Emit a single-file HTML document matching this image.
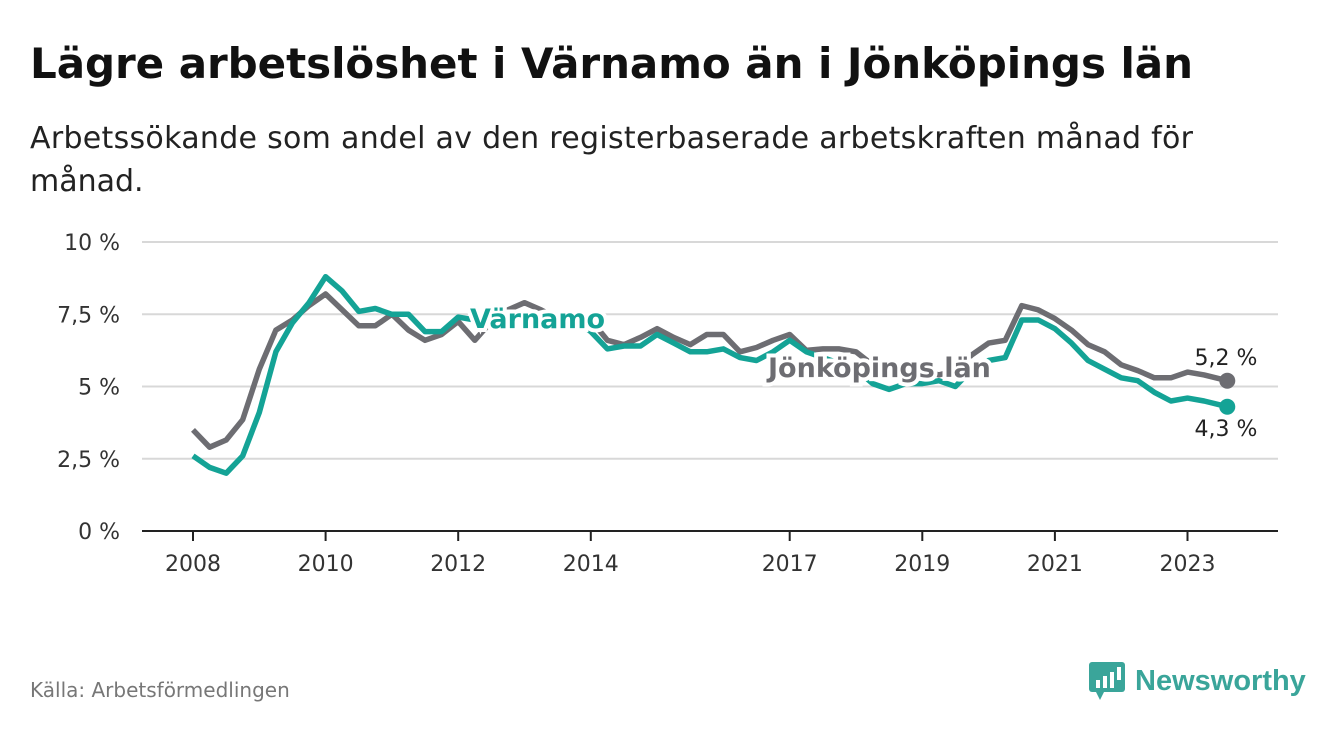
<!DOCTYPE html>
<html><head><meta charset="utf-8"><style>
body{margin:0;background:#fff;width:1340px;height:734px;overflow:hidden;font-family:"Liberation Sans","DejaVu Sans",sans-serif}
</style></head><body>
<svg width="1340" height="734" font-family="'DejaVu Sans','Liberation Sans',sans-serif">
<text x="30" y="78" font-size="42" font-weight="bold" fill="#111" textLength="1163">Lägre arbetslöshet i Värnamo än i Jönköpings län</text>
<text x="30" y="148" font-size="30" fill="#222" textLength="1163">Arbetssökande som andel av den registerbaserade arbetskraften månad för</text>
<text x="30" y="191" font-size="30" fill="#222">månad.</text>
<g id="grid"></g><g id="xt"></g><g id="lines"></g><g id="labels"></g>
<text x="30" y="697" font-size="20" fill="#777">Källa: Arbetsförmedlingen</text>
<g>
<rect x="1089" y="662" width="36" height="30" rx="3" fill="#3aa59a"/>
<polygon points="1096,692 1104,692 1100,700" fill="#3aa59a"/>
<rect x="1096" y="680" width="4" height="8" fill="#fff"/><rect x="1103" y="676" width="4" height="12" fill="#fff"/><rect x="1110" y="672" width="4" height="16" fill="#fff"/><rect x="1117" y="667" width="4" height="13" fill="#fff"/>
<text x="1135" y="690" font-size="29" font-weight="bold" fill="#3aa59a" font-family="'Liberation Sans',sans-serif">Newsworthy</text>
</g>
</svg>
<script>
const yTicks=[0,2.5,5,7.5,10];
const yTickLabels=["0 %","2,5 %","5 %","7,5 %","10 %"];
const xTicks=[2008,2010,2012,2014,2017,2019,2021,2023];
const startYear=2008;
const stepYears=0.25;
const jonkoping=[3.5,2.9,3.15,3.85,5.6,6.95,7.3,7.8,8.2,7.65,7.1,7.1,7.5,6.95,6.6,6.8,7.25,6.6,7.25,7.65,7.9,7.65,7.35,7.3,7.3,6.6,6.45,6.7,7.0,6.7,6.45,6.8,6.8,6.2,6.35,6.6,6.8,6.25,6.3,6.3,6.2,5.75,5.4,5.4,5.55,5.4,5.55,6.1,6.5,6.6,7.8,7.65,7.35,6.95,6.45,6.2,5.75,5.55,5.3,5.3,5.5,5.4,5.2];
const varnamo=[2.6,2.2,2.0,2.6,4.1,6.2,7.2,7.9,8.8,8.3,7.6,7.7,7.5,7.5,6.9,6.9,7.4,7.3,7.3,7.4,7.4,7.4,7.3,7.3,6.9,6.3,6.4,6.4,6.8,6.5,6.2,6.2,6.3,6.0,5.9,6.2,6.6,6.2,6.0,5.8,5.6,5.1,4.9,5.1,5.1,5.2,5.0,5.6,5.9,6.0,7.3,7.3,7.0,6.5,5.9,5.6,5.3,5.2,4.8,4.5,4.6,4.5,4.3];
const lastYear=2023.6;
const NS="http://www.w3.org/2000/svg";
const X=y=>193+(y-2008)*66.3;
const Y=v=>531-v*28.9;
function mk(t,a,p){const e=document.createElementNS(NS,t);for(const k in a)e.setAttribute(k,a[k]);p.appendChild(e);return e;}
const grid=document.getElementById('grid');
yTicks.forEach((v,i)=>{
 const l=mk('line',{x1:142,x2:1278,y1:Y(v),y2:Y(v),stroke:v===0?'#222':'#d8d8d8','stroke-width':2},grid);
 
 
 const t=mk('text',{x:120,y:Y(v)+8,'text-anchor':'end','font-size':22,fill:'#333'},grid);
 t.textContent=yTickLabels[i];
 
 
});
const xt=document.getElementById('xt');
xTicks.forEach(y=>{
 const l=mk('line',{x1:X(y),x2:X(y),y1:531,y2:541,stroke:'#222','stroke-width':2},xt);
 
 
 const t=mk('text',{x:X(y),y:571,'text-anchor':'middle','font-size':22,fill:'#333'},xt);
 t.textContent=y;
 
 
});
function xs(i,n){return i===n-1?lastYear:startYear+i*stepYears;}
const lines=document.getElementById('lines');
function series(data,color,name){
 const d=data.map((v,i)=>(i?'L':'M')+X(xs(i,data.length)).toFixed(1)+','+Y(v).toFixed(1)).join('');
 const p=mk('path',{d:d,fill:'none',stroke:color,'stroke-width':5.5,'stroke-linejoin':'round'},lines);
 
 
 const n=data.length;
 const c=mk('circle',{cx:X(xs(n-1,n)),cy:Y(data[n-1]),r:8,fill:color},lines);
 
 
}
series(jonkoping,'#6d6d72','jonkoping');
series(varnamo,'#14a396','varnamo');
const lab=document.getElementById('labels');
function txt(x,y,s,col,sz,w,name,anchor){
 const t=mk('text',{x:x,y:y,'font-size':sz,'font-weight':w,fill:col,stroke:'#fff','stroke-width':w==='bold'?8:0,'paint-order':'stroke','text-anchor':anchor||'start'},lab);
 t.textContent=s;
 
 
}
txt(470,328,'Värnamo','#14a396',27,'bold','varnamo-label');
txt(768,377,'Jönköpings län','#6d6d72',27,'bold','jonkoping-label');
txt(1226,365,'5,2 %','#222',22,'normal','jonkoping-end-label','middle');
txt(1226,436,'4,3 %','#222',22,'normal','varnamo-end-label','middle');
</script>
</body></html>
